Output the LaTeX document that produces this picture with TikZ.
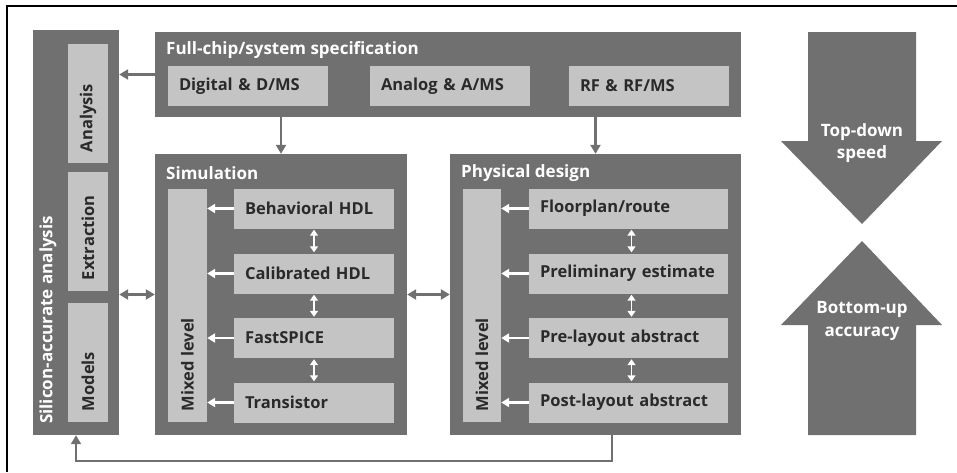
\documentclass[tikz,border=0pt]{standalone}
\usepackage{fontspec}
\setmainfont{Open Sans}
\usetikzlibrary{arrows.meta,calc}
\definecolor{dk}{HTML}{707070}
\definecolor{lt}{HTML}{C4C4C4}
\definecolor{txt}{HTML}{2A2A2A}
\begin{document}
\begin{tikzpicture}[x=1pt,y=-1pt,
  dkbox/.style={fill=dk,draw=none,inner sep=0pt,rectangle},
  ltbar/.style={fill=lt,draw=none,inner sep=0pt,rectangle},
  lbl/.style={font=\bfseries\fontsize{16.5}{18}\selectfont,text=txt,inner sep=0pt},
  wlbl/.style={font=\bfseries\fontsize{17}{18}\selectfont,text=white,inner sep=0pt},
  rowbox/.style={fill=lt,draw=none,rectangle,inner ysep=0pt,inner xsep=11pt,minimum height=40pt,
     text width=#1,align=left,font=\bfseries\fontsize{16.5}{18}\selectfont,text=txt},
  garr/.style={draw=dk,line width=2.2pt,-{Triangle[length=9pt,width=10pt]}},
  gdarr/.style={draw=dk,line width=2.2pt,{Triangle[length=9pt,width=10pt]}-{Triangle[length=9pt,width=10pt]}},
  warr/.style={draw=white,line width=2.2pt,-{Triangle[length=8pt,width=9pt]}},
  wdarr/.style={draw=white,line width=1.8pt,{Triangle[length=6pt,width=8pt]}-{Triangle[length=6pt,width=8pt]}},
  ]
\useasboundingbox (0,0) rectangle (957,472);
\fill[white] (0,0) rectangle (957,472);
% frame
\draw[black,line width=2pt] (7,472) -- (7,6) -- (957,6);

% left column
\node[dkbox,minimum width=86pt,minimum height=405pt] (LC) at (76,232.5) {};
\node[ltbar,minimum width=40pt,minimum height=119pt] (AN) at (88,103.5) {};
\node[ltbar,minimum width=40pt,minimum height=119pt] (EX) at (88,231.5) {};
\node[ltbar,minimum width=40pt,minimum height=119pt] (MO) at (88,362.5) {};
\node[lbl,rotate=90,anchor=west] (ANt) at ($(AN.south)+(0,-11)$) {Analysis};
\node[lbl,rotate=90,anchor=west] (EXt) at ($(EX.south)+(0,-11)$) {Extraction};
\node[lbl,rotate=90,anchor=west] (MOt) at ($(MO.south)+(0,-11)$) {Models};
\node[wlbl,rotate=90,anchor=west] (LCt) at (48,424) {Silicon-accurate analysis};

% full chip
\node[dkbox,minimum width=586pt,minimum height=85pt] (FC) at (448,74.5) {};
\node[wlbl,anchor=west] (FCt) at (166,50) {Full-chip/system specification};
\node[rowbox=138pt] (DG) at (248,86) {Digital \& D/MS};
\node[rowbox=138pt] (AG) at (450,86) {Analog \& A/MS};
\node[rowbox=138pt] (RF) at (649,86) {RF \& RF/MS};

% simulation
\node[dkbox,minimum width=252pt,minimum height=281pt] (SIM) at (281,294.5) {};
\node[wlbl,anchor=west] (SIMt) at (166,173) {Simulation};
\node[ltbar,minimum width=39pt,minimum height=233pt] (ML1) at (187.5,305.5) {};
\node[lbl,rotate=90,anchor=west] (ML1t) at ($(ML1.south)+(0,-11)$) {Mixed level};
\node[rowbox=138pt] (S1) at (314,208.5) {Behavioral HDL};
\node[rowbox=138pt] (S2) at (314,273.5) {Calibrated HDL};
\node[rowbox=138pt] (S3) at (314,338) {FastSPICE};
\node[rowbox=138pt] (S4) at (314,402.5) {Transistor};

% physical design
\node[dkbox,minimum width=291pt,minimum height=281pt] (PD) at (595.5,294.5) {};
\node[wlbl,anchor=west] (PDt) at (461,173) {Physical design};
\node[ltbar,minimum width=38pt,minimum height=233pt] (ML2) at (482,305.5) {};
\node[lbl,rotate=90,anchor=west] (ML2t) at ($(ML2.south)+(0,-11)$) {Mixed level};
\node[rowbox=177pt] (P1) at (628.5,208.5) {Floorplan/route};
\node[rowbox=177pt] (P2) at (628.5,273.5) {Preliminary estimate};
\node[rowbox=177pt] (P3) at (628.5,338) {Pre-layout abstract};
\node[rowbox=177pt] (P4) at (628.5,402.5) {Post-layout abstract};

% white arrows
\foreach \r in {S1,S2,S3,S4} \draw[warr] (\r.west) -- (\r.west -| ML1.east);
\foreach \r in {P1,P2,P3,P4} \draw[warr] (\r.west) -- (\r.west -| ML2.east);
\draw[wdarr] ($(S1.south)+(0,1)$) -- ($(S2.north)+(0,-1)$);
\draw[wdarr] ($(S2.south)+(0,1)$) -- ($(S3.north)+(0,-1)$);
\draw[wdarr] ($(S3.south)+(0,1)$) -- ($(S4.north)+(0,-1)$);
\draw[wdarr] ($(P1.south)+(3,1)$) -- ($(P2.north)+(3,-1)$);
\draw[wdarr] ($(P2.south)+(3,1)$) -- ($(P3.north)+(3,-1)$);
\draw[wdarr] ($(P3.south)+(3,1)$) -- ($(P4.north)+(3,-1)$);

% gray arrows
\draw[garr] (FC.west) -- (FC.west -| LC.east);
\draw[garr] (SIM.north |- FC.south) -- (SIM.north);
\draw[garr] (PD.north |- FC.south) -- (PD.north);
\draw[gdarr] (SIM.west -| LC.east) -- (SIM.west);
\draw[gdarr] (SIM.east) -- (PD.west);
\coordinate (FB) at (612,435);
\draw[garr,line width=2pt] (FB) -- (612,461) -| (LC.south);

% big arrows
\fill[dk] (808,32) -- (916,32) -- (916,141) -- (942,141) -- (862,224) -- (781,141) -- (808,141) -- cycle;
\node[wlbl,align=center,font=\bfseries\fontsize{17}{22.5}\selectfont] (TD) at (862,143) {Top-down\\speed};
\fill[dk] (862,241) -- (942,325) -- (916,325) -- (916,435) -- (808,435) -- (808,325) -- (781,325) -- cycle;
\node[wlbl,align=center,font=\bfseries\fontsize{17}{22.5}\selectfont] (BU) at (862,321) {Bottom-up\\accuracy};
\end{tikzpicture}
\end{document}
